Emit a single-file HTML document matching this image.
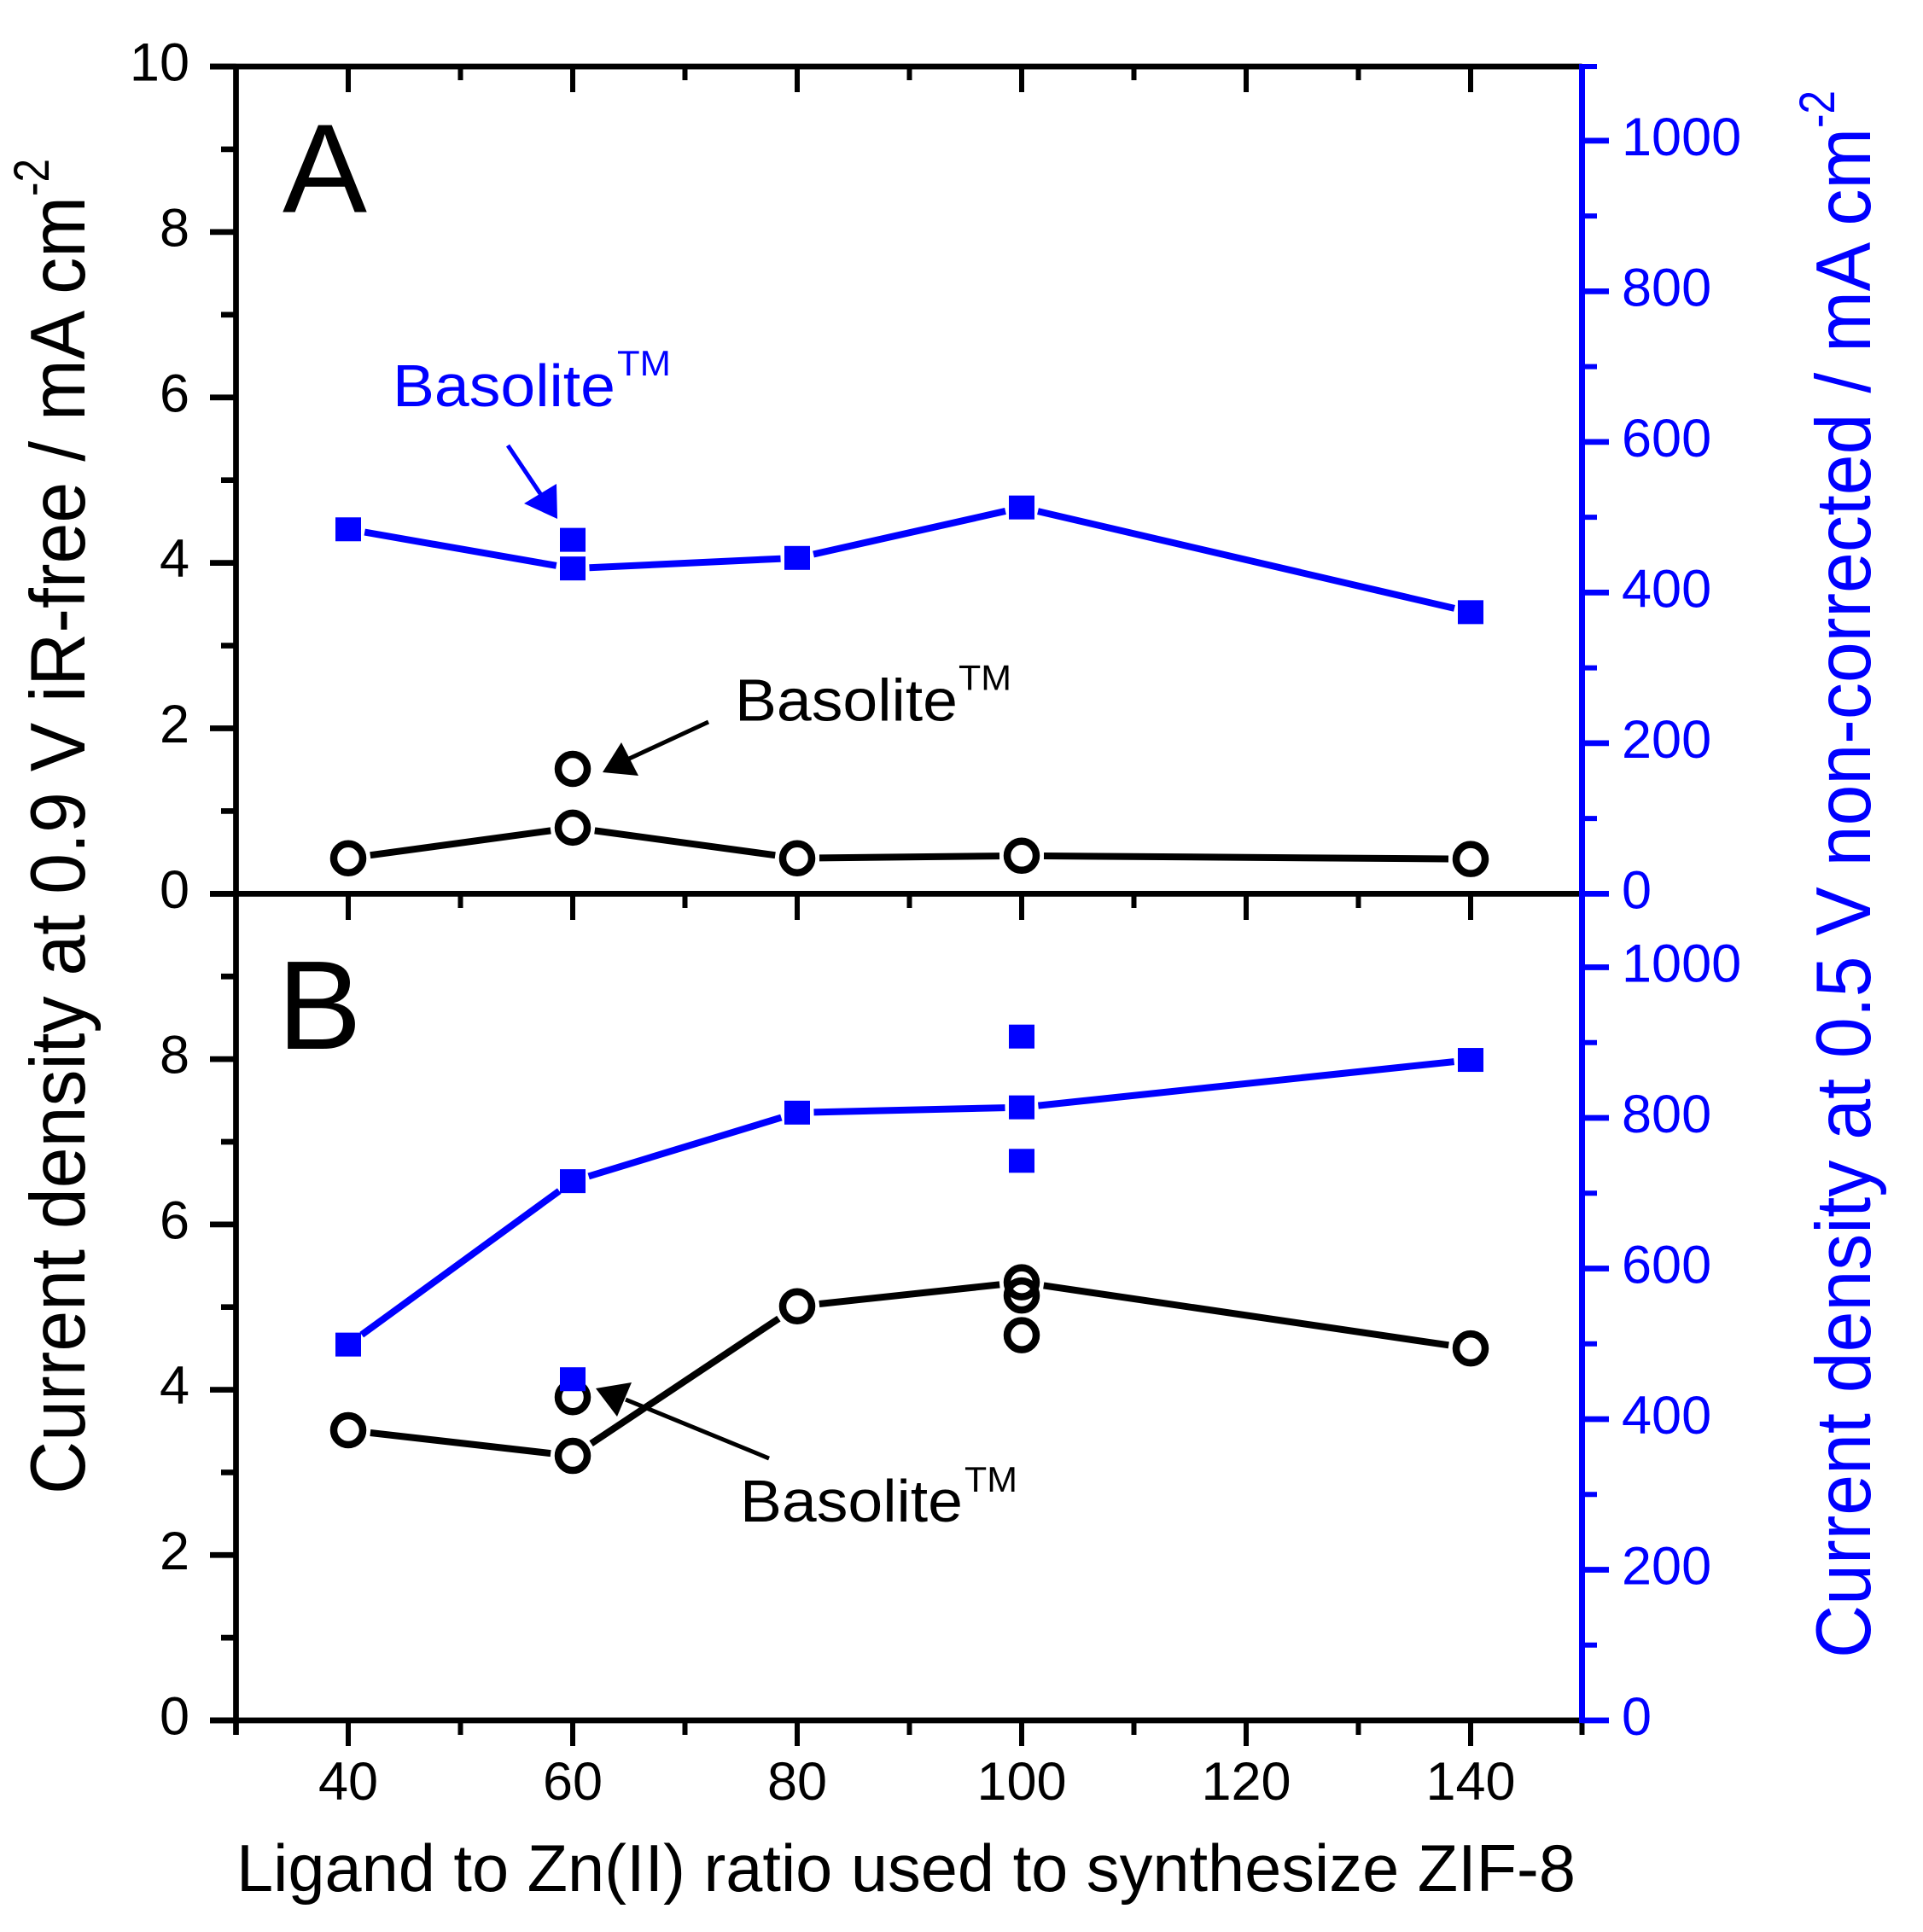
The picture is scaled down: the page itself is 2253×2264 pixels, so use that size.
<!DOCTYPE html>
<html lang="en">
<head>
<meta charset="utf-8">
<title>Current density vs ligand to Zn(II) ratio</title>
<style>
html,body{margin:0;padding:0;background:#fff;}
svg{display:block;}
text{font-family:"Liberation Sans",Arial,sans-serif;}
</style>
</head>
<body>
<svg id="chart" xmlns="http://www.w3.org/2000/svg" width="2253" height="2264" viewBox="0 0 2253 2264">
  <rect x="0" y="0" width="2253" height="2264" fill="#ffffff"/>
  <g id="axes"></g>
  <g id="annotations">
    <text x="331" y="248.5" font-size="148" textLength="99" lengthAdjust="spacingAndGlyphs">A</text>
    <text x="325" y="1229" font-size="148">B</text>

    <g fill="#0000ff">
      <text x="460" y="476" font-size="70" textLength="261" lengthAdjust="spacingAndGlyphs">Basolite</text>
      <text x="723" y="440" font-size="42" textLength="63" lengthAdjust="spacingAndGlyphs">TM</text>
      <line x1="595" y1="522" x2="636" y2="583" stroke="#0000ff" stroke-width="5"/>
      <polygon points="653,608 652,567 614,590"/>
    </g>

    <g fill="#000000">
      <text x="861" y="844.5" font-size="70" textLength="261" lengthAdjust="spacingAndGlyphs">Basolite</text>
      <text x="1123" y="808.5" font-size="42" textLength="62" lengthAdjust="spacingAndGlyphs">TM</text>
      <line x1="830" y1="846" x2="735" y2="890" stroke="#000000" stroke-width="5"/>
      <polygon points="706,905 728,870 748,909"/>
    </g>

    <g fill="#000000">
      <text x="867" y="1783" font-size="70" textLength="261" lengthAdjust="spacingAndGlyphs">Basolite</text>
      <text x="1130" y="1748" font-size="42" textLength="62" lengthAdjust="spacingAndGlyphs">TM</text>
      <line x1="901" y1="1709" x2="733" y2="1640" stroke="#000000" stroke-width="5"/>
      <polygon points="698,1627 740,1620 723,1660"/>
    </g>
  </g>
  <g id="series"></g>
  <g id="titles">
    <text x="277" y="2216" font-size="78" textLength="1569" lengthAdjust="spacingAndGlyphs">Ligand to Zn(II) ratio used to synthesize ZIF-8</text>
    <g transform="translate(99,1751) rotate(-90)">
      <text x="0" y="0" font-size="91" textLength="1521" lengthAdjust="spacingAndGlyphs">Current density at 0.9 V iR-free / mA cm</text>
      <text x="1521" y="-42" font-size="58" textLength="44" lengthAdjust="spacingAndGlyphs">-2</text>
    </g>
    <g transform="translate(2191,1943) rotate(-90)" fill="#0000ff">
      <text x="0" y="0" font-size="91" textLength="1793" lengthAdjust="spacingAndGlyphs">Current density at 0.5 V non-corrected / mA cm</text>
      <text x="1793" y="-42" font-size="58" textLength="44" lengthAdjust="spacingAndGlyphs">-2</text>
    </g>
  </g>
</svg>
<script>
// ---- Data ----
const ratioCategories = [40, 60, 80, 100, 140];
const panelALeftSeries = [0.43, 0.80, 0.43, 0.46, 0.42];
const panelARightSeries = [484, 432, 446, 513, 374];
const panelBLeftSeries = [3.51, 3.20, 5.01, 5.30, 4.50];
const panelBRightSeries = [499, 716, 807, 814, 877];
const panelALeftExtraX = [60];
const panelALeftExtraY = [1.51];
const panelARightExtraX = [60];
const panelARightExtraY = [470];
const panelBLeftExtraX = [60, 100, 100];
const panelBLeftExtraY = [3.91, 5.14, 4.66];
const panelBRightExtraX = [60, 100, 100];
const panelBRightExtraY = [453, 908, 743];
const xMajorTicks = [40, 60, 80, 100, 120, 140];
const xMinorTicks = [50, 70, 90, 110, 130];
const leftMajorTicksA = [10, 8, 6, 4, 2, 0];
const leftMinorTicksA = [9, 7, 5, 3, 1];
const leftMajorTicksB = [8, 6, 4, 2, 0];
const leftMinorTicksB = [9, 7, 5, 3, 1];
const rightMajorTicks = [1000, 800, 600, 400, 200, 0];
const rightMinorTicks = [900, 700, 500, 300, 100];

// ---- Axis functions ----
const NS = 'http://www.w3.org/2000/svg';
const BLACK = '#000000';
const BLUE = '#0000ff';
const AXIS_W = 6.7;
const xScale = v => 408 + (v - 40) * 13.15;
const leftScaleA = v => 1047.4 - v * 96.94;
const leftScaleB = v => 2016 - v * 96.86;
const rightScaleA = v => 1047.4 - v * 0.8825;
const rightScaleB = v => 2016 - v * 0.8825;

const axesGroup = document.getElementById('axes');
const seriesGroup = document.getElementById('series');

function drawLine(parent, name, x1, y1, x2, y2, color, width) {
  const el = document.createElementNS(NS, 'line');
  
  
  el.setAttribute('x1', x1);
  el.setAttribute('y1', y1);
  el.setAttribute('x2', x2);
  el.setAttribute('y2', y2);
  el.setAttribute('stroke', color);
  el.setAttribute('stroke-width', width);
  parent.appendChild(el);
}
function drawLabel(parent, name, str, x, y, anchor, color) {
  const el = document.createElementNS(NS, 'text');
  
  
  el.setAttribute('x', x);
  el.setAttribute('y', y);
  el.setAttribute('font-size', '63');
  el.setAttribute('text-anchor', anchor);
  el.setAttribute('fill', color);
  el.textContent = str;
  parent.appendChild(el);
}
function drawSquare(parent, name, cx, cy) {
  const el = document.createElementNS(NS, 'rect');
  
  
  el.setAttribute('x', cx - 15);
  el.setAttribute('y', cy - 14);
  el.setAttribute('width', 30);
  el.setAttribute('height', 28);
  el.setAttribute('fill', BLUE);
  parent.appendChild(el);
}
function drawCircle(parent, name, cx, cy) {
  const el = document.createElementNS(NS, 'circle');
  
  
  el.setAttribute('cx', cx);
  el.setAttribute('cy', cy);
  el.setAttribute('r', 17);
  el.setAttribute('fill', 'none');
  el.setAttribute('stroke', BLACK);
  el.setAttribute('stroke-width', 8.5);
  parent.appendChild(el);
}
function drawSeriesLine(parent, name, xs, ys, yScale, color, gap) {
  for (let i = 0; i < xs.length - 1; i++) {
    const x0 = xScale(xs[i]), y0 = yScale(ys[i]);
    const x1 = xScale(xs[i + 1]), y1 = yScale(ys[i + 1]);
    const len = Math.hypot(x1 - x0, y1 - y0);
    const ux = (x1 - x0) / len, uy = (y1 - y0) / len;
    drawLine(parent, name + '-segment-' + i, x0 + ux * gap, y0 + uy * gap, x1 - ux * gap, y1 - uy * gap, color, 8);
  }
}

// ---- Axis frame ----
const TOP = leftScaleA(10), MID = leftScaleA(0), BOT = leftScaleB(0);
const LEFT = xScale(30), RIGHT = xScale(150) - 1;

drawLine(axesGroup, 'top-axis-line', 246, TOP, RIGHT, TOP, BLACK, AXIS_W);
drawLine(axesGroup, 'middle-axis-line', 246, MID, RIGHT, MID, BLACK, AXIS_W);
drawLine(axesGroup, 'bottom-axis-line', 246, BOT, RIGHT, BOT, BLACK, AXIS_W);
drawLine(axesGroup, 'left-axis-line', LEFT, TOP - 3, LEFT, 2033, BLACK, AXIS_W);
drawLine(axesGroup, 'bottom-edge-tick-right', RIGHT, BOT, RIGHT, 2033, BLACK, 6);

// x ticks: top of panel A (inward), middle and bottom (downward)
xMajorTicks.forEach(v => {
  drawLine(axesGroup, 'x-top-major-tick-' + v, xScale(v), TOP, xScale(v), 108, BLACK, 6);
  drawLine(axesGroup, 'x-middle-major-tick-' + v, xScale(v), MID, xScale(v), 1078, BLACK, 6);
  drawLine(axesGroup, 'x-bottom-major-tick-' + v, xScale(v), BOT, xScale(v), 2046, BLACK, 6);
  drawLabel(axesGroup, 'x-tick-label-' + v, String(v), xScale(v), 2109, 'middle', BLACK);
});
xMinorTicks.forEach(v => {
  drawLine(axesGroup, 'x-top-minor-tick-' + v, xScale(v), TOP, xScale(v), 94, BLACK, 6);
  drawLine(axesGroup, 'x-middle-minor-tick-' + v, xScale(v), MID, xScale(v), 1064, BLACK, 6);
  drawLine(axesGroup, 'x-bottom-minor-tick-' + v, xScale(v), BOT, xScale(v), 2033, BLACK, 6);
});
drawLine(axesGroup, 'x-bottom-minor-tick-30', xScale(30), BOT, xScale(30), 2033, BLACK, 6);

// left axis ticks
leftMajorTicksA.forEach(v => {
  drawLine(axesGroup, 'left-a-major-tick-' + v, 246, leftScaleA(v), LEFT, leftScaleA(v), BLACK, AXIS_W);
  drawLabel(axesGroup, 'left-a-tick-label-' + v, String(v), 222, leftScaleA(v) + 16.5, 'end', BLACK);
});
leftMinorTicksA.forEach(v => {
  drawLine(axesGroup, 'left-a-minor-tick-' + v, 259, leftScaleA(v), LEFT, leftScaleA(v), BLACK, AXIS_W);
});
leftMajorTicksB.forEach(v => {
  drawLine(axesGroup, 'left-b-major-tick-' + v, 246, leftScaleB(v), LEFT, leftScaleB(v), BLACK, AXIS_W);
  drawLabel(axesGroup, 'left-b-tick-label-' + v, String(v), 222, leftScaleB(v) + 16.5, 'end', BLACK);
});
leftMinorTicksB.forEach(v => {
  drawLine(axesGroup, 'left-b-minor-tick-' + v, 259, leftScaleB(v), LEFT, leftScaleB(v), BLACK, AXIS_W);
});

// right axis (blue)
drawLine(axesGroup, 'right-axis-line', RIGHT, TOP - 3, RIGHT, BOT + 3, BLUE, 7);
drawLine(axesGroup, 'right-a-top-minor-tick', RIGHT, TOP, 1871, TOP, BLUE, 6);
rightMajorTicks.forEach(v => {
  drawLine(axesGroup, 'right-a-major-tick-' + v, RIGHT, rightScaleA(v), 1885, rightScaleA(v), BLUE, AXIS_W);
  drawLabel(axesGroup, 'right-a-tick-label-' + v, String(v), 1900, rightScaleA(v) + 17, 'start', BLUE);
  drawLine(axesGroup, 'right-b-major-tick-' + v, RIGHT, rightScaleB(v), 1885, rightScaleB(v), BLUE, AXIS_W);
  drawLabel(axesGroup, 'right-b-tick-label-' + v, String(v), 1900, rightScaleB(v) + 17, 'start', BLUE);
});
rightMinorTicks.forEach(v => {
  drawLine(axesGroup, 'right-a-minor-tick-' + v, RIGHT, rightScaleA(v), 1871, rightScaleA(v), BLUE, 6);
  drawLine(axesGroup, 'right-b-minor-tick-' + v, RIGHT, rightScaleB(v), 1871, rightScaleB(v), BLUE, 6);
});

// ---- Series ----
const CIRCLE_GAP = 26, SQUARE_GAP = 19.5;

drawSeriesLine(seriesGroup, 'panel-a-current-line', ratioCategories, panelALeftSeries, leftScaleA, BLACK, CIRCLE_GAP);
drawSeriesLine(seriesGroup, 'panel-a-noncorrected-line', ratioCategories, panelARightSeries, rightScaleA, BLUE, SQUARE_GAP);
drawSeriesLine(seriesGroup, 'panel-b-current-line', ratioCategories, panelBLeftSeries, leftScaleB, BLACK, CIRCLE_GAP);
drawSeriesLine(seriesGroup, 'panel-b-noncorrected-line', ratioCategories, panelBRightSeries, rightScaleB, BLUE, SQUARE_GAP);

ratioCategories.forEach((x, i) => {
  drawCircle(seriesGroup, 'panel-a-circle-' + x, xScale(x), leftScaleA(panelALeftSeries[i]));
  drawCircle(seriesGroup, 'panel-b-circle-' + x, xScale(x), leftScaleB(panelBLeftSeries[i]));
});
panelALeftExtraX.forEach((x, i) => {
  drawCircle(seriesGroup, 'panel-a-extra-circle-' + i, xScale(x), leftScaleA(panelALeftExtraY[i]));
});
panelBLeftExtraX.forEach((x, i) => {
  drawCircle(seriesGroup, 'panel-b-extra-circle-' + i, xScale(x), leftScaleB(panelBLeftExtraY[i]));
});
ratioCategories.forEach((x, i) => {
  drawSquare(seriesGroup, 'panel-a-square-' + x, xScale(x), rightScaleA(panelARightSeries[i]));
  drawSquare(seriesGroup, 'panel-b-square-' + x, xScale(x), rightScaleB(panelBRightSeries[i]));
});
panelARightExtraX.forEach((x, i) => {
  drawSquare(seriesGroup, 'panel-a-extra-square-' + i, xScale(x), rightScaleA(panelARightExtraY[i]));
});
panelBRightExtraX.forEach((x, i) => {
  drawSquare(seriesGroup, 'panel-b-extra-square-' + i, xScale(x), rightScaleB(panelBRightExtraY[i]));
});
</script>
</body>
</html>
